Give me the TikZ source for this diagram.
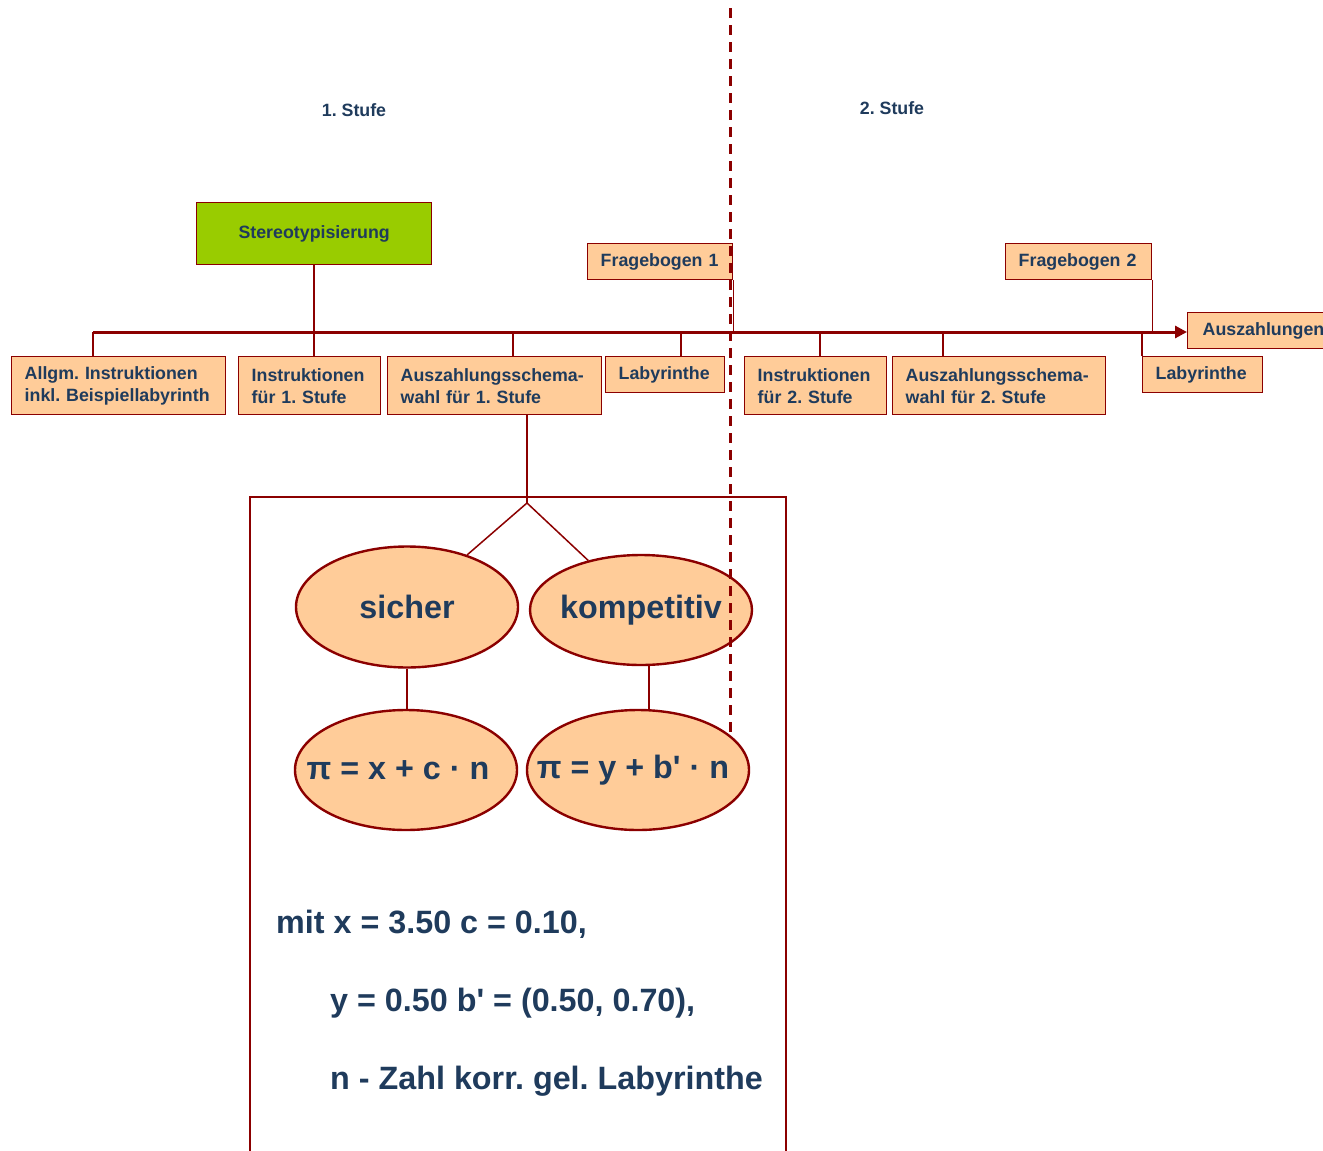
\documentclass[tikz,border=0pt]{standalone}
\usepackage{fontspec}
\setmainfont{Liberation Sans}
\usetikzlibrary{shapes.geometric, arrows.meta, positioning}
\definecolor{dred}{HTML}{8B0000}
\definecolor{peach}{HTML}{FFCC99}
\definecolor{lime}{HTML}{99CC00}
\definecolor{inkblue}{HTML}{1F3B5C}
\frenchspacing

\begin{document}
\begin{tikzpicture}[x=1pt, y=-1pt,
  box/.style={rectangle, draw=dred, fill=peach, line width=1.4pt, anchor=north west, inner xsep=13pt, inner ysep=0pt, align=left, text=inkblue, font=\fontsize{17.8}{22}\selectfont\bfseries},
  stage/.style={text=inkblue, font=\fontsize{17.8}{22}\selectfont\bfseries},
  oval/.style={ellipse, draw=dred, fill=peach, line width=2.4pt, minimum width=222pt, inner sep=0pt, text=inkblue, font=\fontsize{32.3}{38}\selectfont\bfseries, execute at begin node=\hbox to 0pt\bgroup\hss, execute at end node=\hss\egroup},
  note/.style={anchor=base west, inner sep=0pt, text=inkblue, font=\fontsize{32.3}{38}\selectfont\bfseries},
  link/.style={draw=dred, line width=1.5pt},
  mainline/.style={draw=dred, line width=3pt, -{Triangle[length=12pt, width=12pt]}},
  frame/.style={draw=dred, line width=2pt},
  divider/.style={draw=dred, line width=3pt, dash pattern=on 10pt off 7pt},
]
\useasboundingbox (0,0) rectangle (1323,1151);

%% Stages
\node[stage] (st1) at (354,110) {1. Stufe};
\node[stage] (st2) at (892,108) {2. Stufe};

%% Top row
\node[box, fill=lime, align=center, text width=209pt, minimum height=62pt] (stereo) at (196,202) {Stereotypisierung};
\node[box, text width=119pt, minimum height=36pt] (frage1) at (587,243) {Fragebogen 1};
\node[box, text width=120pt, minimum height=36pt] (frage2) at (1005,243) {Fragebogen 2};
\node[box, inner xsep=15pt, text width=122pt, minimum height=36pt] (ausz) at (1187,312) {Auszahlungen};

%% Bottom row
\node[box, text width=188pt, minimum height=58pt] (allg)   at (11,356)   {Allgm. Instruktionen\\inkl. Beispiellabyrinth};
\node[box, text width=116pt, minimum height=58pt] (instr1) at (238,356)  {Instruktionen\\für 1. Stufe};
\node[box, text width=188pt, minimum height=58pt] (ausz1)  at (387,356)  {Auszahlungsschema-\\wahl für 1. Stufe};
\node[box, text width=93pt,  minimum height=36pt] (lab1)   at (605,356)  {Labyrinthe};
\node[box, text width=116pt, minimum height=58pt] (instr2) at (744,356)  {Instruktionen\\für 2. Stufe};
\node[box, text width=187pt, minimum height=58pt] (ausz2)  at (892,356)  {Auszahlungsschema-\\wahl für 2. Stufe};
\node[box, text width=94pt,  minimum height=36pt] (lab2)   at (1142,356) {Labyrinthe};

%% Time line
\coordinate (lstart) at (93,332);
\coordinate (t3) at (513,332);
\coordinate (t4) at (681,332);
\coordinate (t5) at (820,332);
\coordinate (t6) at (943,332);
\draw[mainline] (lstart) -- (lstart -| ausz.west);
\draw[link] (lstart) -- (lstart |- allg.north);
\draw[link] (stereo.south) -- (stereo.south |- instr1.north);
\draw[link] (t3) -- (t3 |- ausz1.north);
\draw[link] (t4) -- (t4 |- lab1.north);
\draw[link] (t5) -- (t5 |- instr2.north);
\draw[link] (t6) -- (t6 |- ausz2.north);
\draw[link] (frage1.south east) -- (frage1.south east |- lstart);
\draw[link] (frage2.south east) -- (frage2.south east |- lstart);
\draw[link] (lab2.north west) -- (lab2.north west |- lstart);

%% Payment schemes
\draw[frame] (250,1160) |- (786,497) -- (786,1160);
\node[oval, minimum height=121pt] (sicher) at (407,607) {sicher};
\node[oval, minimum height=110pt] (komp)   at (641,610) {kompetitiv};
\node[oval, minimum height=120pt] (pi1)    at (406,770) {π = x + c · n\kern16pt};
\node[oval, minimum height=120pt] (pi2)    at (638,770) {π = y + b\textquotesingle{} · n\kern10pt};
\coordinate (apex) at (527,503);
\draw[link] (ausz1.south -| apex) -- (apex);
\draw[link] (apex) -- (sicher);
\draw[link] (apex) -- (komp);
\draw[link, line width=2pt] (sicher.south) -- (sicher.south |- pi1.north);
\draw[link, line width=2pt] ([xshift=8pt]komp.south) -- ([xshift=8pt]komp.south |- pi2.north);

\node[note] (m1) at (276,933)  {mit x = 3.50 c = 0.10,};
\node[note] (m2) at (330,1011) {y = 0.50 b\textquotesingle{} = (0.50, 0.70),};
\node[note] (m3) at (330,1089) {n - Zahl korr. gel. Labyrinthe};

%% Stage divider
\coordinate (dtop) at (730,8);
\coordinate (dbot) at (730,735);
\draw[divider] (dtop) -- (dbot);
\end{tikzpicture}
\end{document}
